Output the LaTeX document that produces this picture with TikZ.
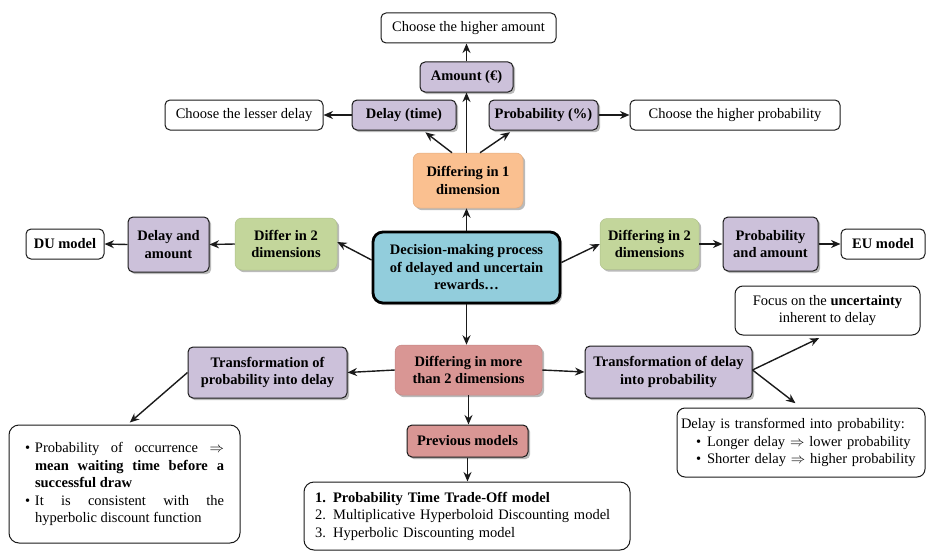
\documentclass[tikz,border=0pt]{standalone}
\usepackage{fontspec}
\setmainfont{Liberation Serif}
\usetikzlibrary{arrows.meta,shadows,calc}
\definecolor{cpurp}{HTML}{CCC1DA}
\definecolor{corange}{HTML}{FAC090}
\definecolor{cgreen}{HTML}{C3D69B}
\definecolor{cblue}{HTML}{92CDDC}
\definecolor{cred}{HTML}{D99694}
\definecolor{cline}{HTML}{1A1A1A}
\newcommand\myfs{\fontsize{14.5}{17.5}\selectfont}
\begin{document}
\begin{tikzpicture}[x=1pt,y=-1pt,
  base/.style={rounded corners=5pt, inner sep=3pt, align=center, font=\myfs},
  shad/.style={drop shadow={shadow xshift=2.2pt,shadow yshift=-2.2pt,fill=black!45,opacity=0.6}},
  wbox/.style={base, draw=cline, line width=1pt, fill=white},
  wboxb/.style={wbox, font=\myfs\bfseries},
  pbox/.style={base, draw=cline, line width=1pt, fill=cpurp, font=\myfs\bfseries, shad},
  gbox/.style={base, draw=cgreen!90!black, line width=0.5pt, fill=cgreen, font=\myfs\bfseries, shad, rounded corners=7pt},
  obox/.style={base, draw=corange!90!black, line width=0.5pt, fill=corange, font=\myfs\bfseries, shad, rounded corners=7pt},
  rbox/.style={base, draw=cred!90!black, line width=0.5pt, fill=cred, font=\myfs\bfseries, shad, rounded corners=7pt},
  rboxd/.style={base, draw=cline, line width=1pt, fill=cred, font=\myfs\bfseries, shad},
  bbox/.style={base, draw=black, line width=2.8pt, fill=cblue, font=\myfs\bfseries, rounded corners=10pt, shad},
  arr/.style={-{Stealth[length=9.5pt,width=8pt]}, line width=1.4pt, draw=cline}
]
\useasboundingbox (0,0) rectangle (926,551);

% top part
\node[wbox, minimum width=175pt, minimum height=30pt] (cha) at (468.5,28) {Choose the higher amount};
\node[pbox, minimum width=93pt, minimum height=30pt] (amt) at (466.5,77) {Amount (€)};
\node[wbox, minimum width=158pt, minimum height=30pt] (cld) at (244,115) {Choose the lesser delay};
\node[pbox, minimum width=104pt, minimum height=30pt] (dly) at (404,115) {Delay (time)};
\node[pbox, minimum width=109pt, minimum height=30pt] (prb) at (543.5,115) {Probability (\%)};
\node[wbox, minimum width=210pt, minimum height=30pt] (chp) at (735,115) {Choose the higher probability};
\node[obox, minimum width=110pt, minimum height=55pt] (one) at (468,180.5) {Differing in 1\\dimension};

% middle row
\node[bbox, minimum width=187pt, minimum height=71pt] (dm) at (466.5,267.5) {Decision-making process\\of delayed and uncertain\\rewards…};
\node[gbox, minimum width=102pt, minimum height=52pt] (g2l) at (286,244) {Differ in 2\\dimensions};
\node[pbox, minimum width=81pt, minimum height=55pt] (da) at (168.5,244.5) {Delay and\\amount};
\node[wboxb, minimum width=78pt, minimum height=30pt] (du) at (65,244) {DU model};
\node[gbox, minimum width=99pt, minimum height=51pt] (g2r) at (649.5,244) {Differing in 2\\dimensions};
\node[pbox, minimum width=95pt, minimum height=54pt] (pa) at (770.5,244) {Probability\\and amount};
\node[wboxb, minimum width=84pt, minimum height=30pt] (eu) at (883,244) {EU model};

% lower part
\node[rbox, minimum width=147pt, minimum height=50pt] (more) at (468.5,370) {Differing in more\\than 2 dimensions};
\node[pbox, minimum width=159pt, minimum height=51pt] (tpd) at (267.5,372.5) {Transformation of\\probability into delay};
\node[pbox, minimum width=167pt, minimum height=52pt] (tdp) at (668.5,372) {Transformation of delay\\into probability};
\node[rboxd, minimum width=121pt, minimum height=32pt] (prev) at (467.5,441) {Previous models};
\node[wbox, rounded corners=8pt, minimum width=185pt, minimum height=49pt] (foc) at (827.5,310.5) {Focus on the \textbf{uncertainty}\\inherent to delay};
\node[wbox, rounded corners=8pt, minimum width=248pt, minimum height=69pt, text width=240pt, align=left] (dbox) at (801,442.5)
  {Delay is transformed into probability:\\
   \hspace*{15pt}\textbullet\hspace{6pt}Longer delay $\Rightarrow$ lower probability\\
   \hspace*{15pt}\textbullet\hspace{6pt}Shorter delay $\Rightarrow$ higher probability};
\node[wbox, rounded corners=10pt, minimum width=326pt, minimum height=68pt, text width=304pt, align=left] (list) at (467,516)
  {\textbf{1. Probability Time Trade-Off model}\\
   2. Multiplicative Hyperboloid Discounting model\\
   3. Hyperbolic Discounting model};
\node[wbox, rounded corners=10pt, minimum height=118pt, text width=199pt, inner xsep=16pt, align=justify] (lb) at (124.5,484)
  {\hangindent=10pt\hangafter=1\noindent\makebox[10pt][l]{\textbullet}Probability of occurrence $\Rightarrow$\linebreak \textbf{mean waiting time before a\linebreak successful draw}\par
   \hangindent=10pt\hangafter=1\noindent\makebox[10pt][l]{\textbullet}It is consistent with the\linebreak hyperbolic discount function\par};

% connectors
\draw[arr] (dm.north) -- (dm.north |- one.south);
\draw[arr] (amt.south |- one.north) -- (amt.south);
\draw[arr, shorten >=3pt] ([xshift=-16pt]one.north) -- ([xshift=19pt]dly.south);
\draw[arr, shorten >=3pt] ([xshift=12pt]one.north) -- ([xshift=-31pt]prb.south);
\draw[arr] (amt.north) -- (amt.north |- cha.south);
\draw[arr] (dly.west) -- (cld.east);
\draw[arr] (prb.east) -- (chp.west);
\draw[arr] ([yshift=7.5pt]dm.west) -- ([yshift=2pt]g2l.east);
\draw[arr] (g2l.west) -- (da.east);
\draw[arr] (da.west) -- (du.east);
\draw[arr] ([yshift=5pt]dm.east) -- (g2r.west);
\draw[arr] (g2r.east) -- (pa.west);
\draw[arr] (pa.east) -- (eu.west);
\draw[arr] (dm.south) -- (dm.south |- more.north);
\draw[arr] (more.west) -- (tpd.east);
\draw[arr] (more.east) -- (tdp.west);
\draw[arr] (more.south) -- (more.south |- prev.north);
\draw[arr] (prev.south) -- (prev.south |- list.north);
\draw[arr, shorten >=3pt] (tpd.west) -- ([xshift=3pt]lb.north);
\draw[arr, shorten >=6pt] ([yshift=2pt]tdp.east) -- ([xshift=-3pt]foc.south);
\draw[arr, shorten >=7pt] ([yshift=2pt]tdp.east) -- (dbox.north);
\end{tikzpicture}
\end{document}
